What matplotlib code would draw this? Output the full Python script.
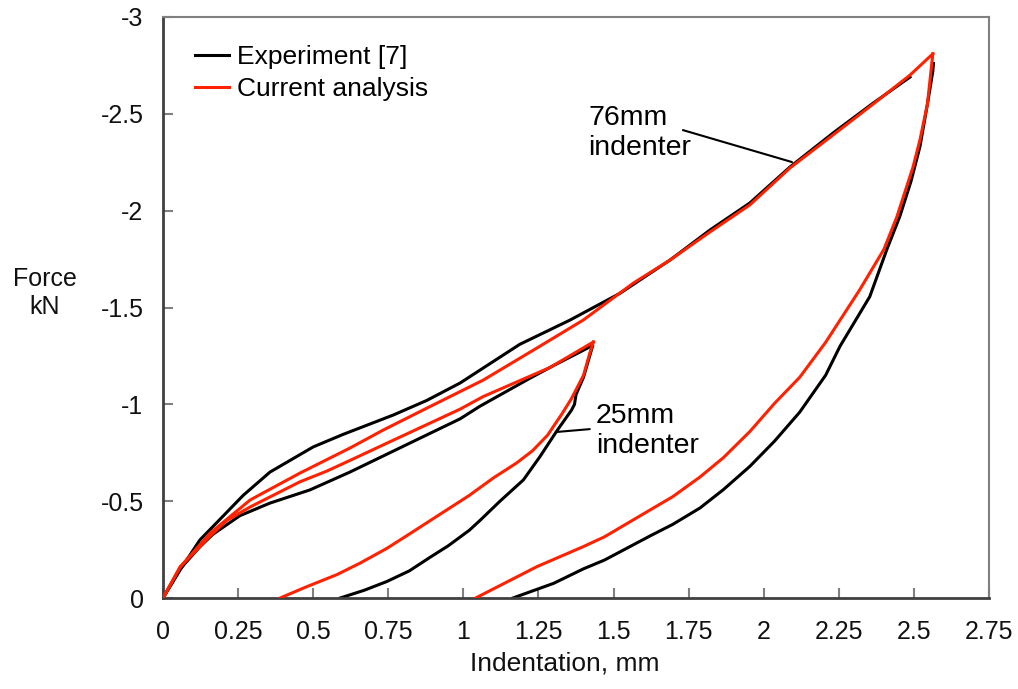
import matplotlib
matplotlib.use("Agg")
import matplotlib.pyplot as plt

plt.rcParams['font.family'] = ['Liberation Sans', 'DejaVu Sans']
plt.rcParams['axes.unicode_minus'] = False

# ---------------- data ----------------
exp76_load_x = [0, 0.057, 0.123, 0.167, 0.267, 0.356, 0.5, 0.6, 0.767, 0.878, 0.989, 1.188,
                1.355, 1.521, 1.688, 1.821, 1.954, 2.087, 2.23, 2.364, 2.487]
exp76_load_y = [0, -0.145, -0.30, -0.37, -0.53, -0.65, -0.78, -0.845, -0.945, -1.02, -1.11, -1.31,
                -1.435, -1.573, -1.745, -1.90, -2.04, -2.225, -2.40, -2.555, -2.69]

exp76_unload_x = [2.565, 2.563, 2.545, 2.52, 2.49, 2.453, 2.41, 2.353, 2.254, 2.206, 2.12, 2.036,
                  1.954, 1.866, 1.788, 1.697, 1.621, 1.47, 1.399, 1.301, 1.165]
exp76_unload_y = [-2.76, -2.72, -2.55, -2.33, -2.15, -1.97, -1.80, -1.556, -1.30, -1.15, -0.96, -0.81,
                  -0.68, -0.56, -0.465, -0.38, -0.32, -0.196, -0.15, -0.076, 0]

mod76_load_x = [0, 0.057, 0.157, 0.29, 0.456, 0.622, 0.733, 0.878, 1.066, 1.244, 1.399, 1.566,
                1.688, 1.821, 1.954, 2.087, 2.23, 2.364, 2.487, 2.563]
mod76_load_y = [0, -0.16, -0.335, -0.506, -0.645, -0.774, -0.867, -0.98, -1.125, -1.29, -1.435, -1.626,
                -1.745, -1.89, -2.03, -2.22, -2.39, -2.55, -2.70, -2.81]

mod76_unload_x = [2.563, 2.545, 2.52, 2.497, 2.443, 2.40, 2.319, 2.206, 2.12, 2.036, 1.954,
                  1.866, 1.788, 1.697, 1.621, 1.47, 1.399, 1.245, 1.041]
mod76_unload_y = [-2.81, -2.55, -2.365, -2.225, -1.967, -1.80, -1.59, -1.32, -1.14, -1.005, -0.86,
                  -0.725, -0.625, -0.523, -0.454, -0.316, -0.265, -0.162, 0]

exp25_load_x = [0, 0.057, 0.123, 0.167, 0.256, 0.356, 0.489, 0.622, 0.822, 0.989, 1.055, 1.222,
                1.30, 1.388, 1.425]
exp25_load_y = [0, -0.15, -0.265, -0.33, -0.425, -0.49, -0.558, -0.65, -0.80, -0.925, -0.99, -1.135,
                -1.20, -1.27, -1.30]

exp25_unload_x = [1.43, 1.415, 1.40, 1.375, 1.37, 1.36, 1.31, 1.255, 1.20, 1.122, 1.055, 1.02,
                  0.95, 0.889, 0.82, 0.745, 0.67, 0.59]
exp25_unload_y = [-1.30, -1.22, -1.14, -1.05, -1.00, -0.97, -0.86, -0.73, -0.61, -0.50, -0.40, -0.35,
                  -0.27, -0.21, -0.14, -0.085, -0.04, 0]

mod25_load_x = [0, 0.057, 0.157, 0.212, 0.29, 0.456, 0.545, 0.622, 0.767, 0.989, 1.066, 1.288, 1.433]
mod25_load_y = [0, -0.16, -0.32, -0.40, -0.47, -0.60, -0.655, -0.71, -0.815, -0.975, -1.04, -1.19, -1.322]

mod25_unload_x = [1.433, 1.42, 1.40, 1.36, 1.33, 1.28, 1.23, 1.177, 1.10, 1.02, 0.92, 0.82,
                  0.745, 0.656, 0.578, 0.478, 0.39]
mod25_unload_y = [-1.322, -1.26, -1.15, -1.03, -0.955, -0.84, -0.76, -0.697, -0.62, -0.53, -0.43, -0.33,
                  -0.256, -0.18, -0.12, -0.058, 0]

x_ticks = [0, 0.25, 0.5, 0.75, 1, 1.25, 1.5, 1.75, 2, 2.25, 2.5, 2.75]
x_tick_labels = ['0', '0.25', '0.5', '0.75', '1', '1.25', '1.5', '1.75', '2', '2.25', '2.5', '2.75']
y_ticks = [0, -0.5, -1, -1.5, -2, -2.5, -3]
y_tick_labels = ['0', '-0.5', '-1', '-1.5', '-2', '-2.5', '-3']

legend_labels = ['Experiment [7]', 'Current analysis']

# ---------------- figure ----------------
fig = plt.figure(figsize=(10.18, 6.89), dpi=100)
ax = fig.add_axes([163 / 1018, 1 - 598 / 689, (989 - 163) / 1018, (598 - 17) / 689])

black = '#000000'
red = '#ff2200'
lw = 2.2

l1, = ax.plot(exp76_load_x, exp76_load_y, color=black, lw=lw, label=legend_labels[0], zorder=2)
ax.plot(exp76_unload_x, exp76_unload_y, color=black, lw=lw, zorder=2)
ax.plot(exp25_load_x, exp25_load_y, color=black, lw=lw, zorder=2)
ax.plot(exp25_unload_x, exp25_unload_y, color=black, lw=lw, zorder=2)
l2, = ax.plot(mod76_load_x, mod76_load_y, color=red, lw=lw, label=legend_labels[1], zorder=3)
ax.plot(mod76_unload_x, mod76_unload_y, color=red, lw=lw, zorder=3)
ax.plot(mod25_load_x, mod25_load_y, color=red, lw=lw, zorder=3)
ax.plot(mod25_unload_x, mod25_unload_y, color=red, lw=lw, zorder=3)

ax.set_xlim(0, 2.75)
ax.set_ylim(0, -3)
ax.set_xticks(x_ticks)
ax.set_xticklabels(x_tick_labels, fontsize=18, color='#111111')
ax.set_yticks(y_ticks)
ax.set_yticklabels(y_tick_labels, fontsize=18, color='#111111')

ax.tick_params(axis='both', direction='in', length=7, width=1.5, color='#808080')
ax.tick_params(axis='x', pad=16)
ax.tick_params(axis='y', pad=14)

for s in ['left', 'bottom']:
    ax.spines[s].set_color('#404040')
    ax.spines[s].set_linewidth(2)
for s in ['top', 'right']:
    ax.spines[s].set_color('#808080')
    ax.spines[s].set_linewidth(1.5)

# legend
ax.legend(handles=[l1, l2], loc='upper left', bbox_to_anchor=(195 / 1018, 1 - 45 / 689),
          bbox_transform=fig.transFigure, frameon=False, fontsize=19,
          handlelength=1.3, handletextpad=0.3, labelspacing=0.32, borderpad=0, borderaxespad=0)

# annotations
ax.text(1.415, -2.40, '76mm\nindenter', fontsize=20.5, ha='left', va='center', linespacing=1.2)
ax.annotate('', xy=(2.094, -2.251), xytext=(1.731, -2.416),
            arrowprops=dict(arrowstyle='-', color='black', lw=1.5, shrinkA=0, shrinkB=0))
ax.text(1.441, -0.862, '25mm\nindenter', fontsize=20.5, ha='left', va='center', linespacing=1.2)
ax.annotate('', xy=(1.308, -0.857), xytext=(1.421, -0.872),
            arrowprops=dict(arrowstyle='-', color='black', lw=1.5, shrinkA=0, shrinkB=0))

# axis labels
fig.text(45 / 1018, 1 - 293 / 689, 'Force\nkN', fontsize=18, ha='center', va='center',
         linespacing=1.25, color='#111111')
fig.text(565 / 1018, 1 - 663 / 689, 'Indentation, mm', fontsize=19, ha='center', va='center',
         color='#111111')

fig.savefig('out.png', dpi=100)
